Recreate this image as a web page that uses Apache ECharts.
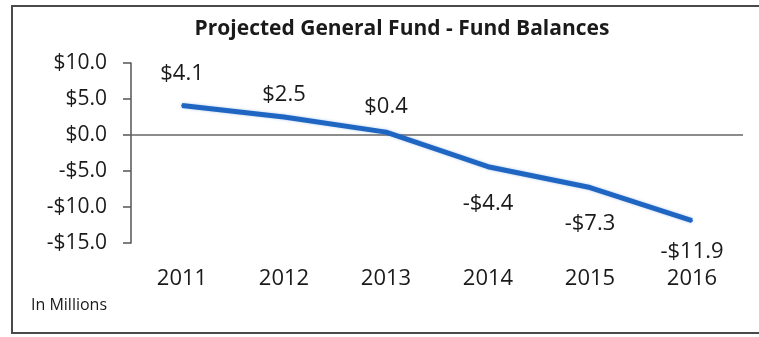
<!DOCTYPE html>
<html>
<head>
<meta charset="utf-8">
<script src="https://cdn.jsdelivr.net/npm/echarts@6/dist/echarts.min.js"></script>
<style>
  html, body { margin: 0; padding: 0; background: #ffffff; }
  #chart { width: 759px; height: 337px; }
</style>
</head>
<body>
<div id="chart"></div>
<script>
// Fiscal years and projected fund balances ($ millions)
const years = ['2011', '2012', '2013', '2014', '2015', '2016'];
const balances = [4.1, 2.5, 0.4, -4.4, -7.3, -11.9];
const yTicks = { min: -15, max: 10, step: 5 };

const FONT = '"Open Sans", "Noto Sans", sans-serif';
const TEXT = '#1a1a1a';

// gap between each point and its value label
const labelGap = [20, 10, 13, 25, 24, 19];

const money = v => (v < 0 ? '-$' : '$') + Math.abs(v).toFixed(1);

const seriesData = balances.map((v, i) => ({
  value: v,
  label: {
    show: true,
    position: v >= 0 ? 'top' : 'bottom',
    distance: labelGap[i]
  }
}));

const chart = echarts.init(document.getElementById('chart'), null, { renderer: 'canvas' });

chart.setOption({
  backgroundColor: '#ffffff',
  animation: false,
  title: {
    text: 'Projected General Fund - Fund Balances',
    left: 397,
    textAlign: 'center',
    top: 14,
    textStyle: { fontFamily: FONT, fontWeight: 'bold', fontSize: 21, color: TEXT }
  },
  graphic: [
    {
      type: 'rect',
      silent: true,
      shape: { x: 12, y: 6, width: 800, height: 327 },
      style: { fill: 'none', stroke: '#4a4a4a', lineWidth: 2 }
    },
    {
      type: 'text',
      left: 31,
      top: 297,
      silent: true,
      style: { text: 'In Millions', fontFamily: FONT, fontSize: 16, fill: TEXT }
    }
  ],
  grid: { left: 131, right: 16, top: 63, bottom: 94, containLabel: false },
  xAxis: {
    type: 'category',
    data: years,
    boundaryGap: true,
    axisLine: { show: false, onZero: false },
    axisTick: { show: false },
    axisLabel: { margin: 25, fontFamily: FONT, fontSize: 22, color: TEXT },
    splitLine: { show: false }
  },
  yAxis: {
    type: 'value',
    min: yTicks.min,
    max: yTicks.max,
    interval: yTicks.step,
    axisLine: { show: true, lineStyle: { color: '#555555', width: 1.5 } },
    axisTick: { show: true, inside: false, length: 8, lineStyle: { color: '#555555', width: 1.5 } },
    axisLabel: {
      margin: 24,
      fontFamily: FONT,
      fontSize: 21,
      color: TEXT,
      formatter: money
    },
    splitLine: { show: false }
  },
  series: [{
    type: 'line',
    data: seriesData,
    symbol: 'circle',
    symbolSize: 2,
    showSymbol: true,
    itemStyle: { color: '#1f66c2', borderWidth: 0 },
    smooth: false,
    lineStyle: { color: '#1f66c2', width: 5, shadowColor: 'rgba(31,102,194,0.35)', shadowBlur: 3 },
    label: {
      show: true,
      fontFamily: FONT,
      fontSize: 22,
      color: TEXT,
      formatter: p => money(p.value)
    },
    markLine: {
      silent: true,
      symbol: 'none',
      label: { show: false },
      lineStyle: { color: '#666666', type: 'solid', width: 1.5 },
      data: [{ yAxis: 0 }],
      z: 1
    },
    z: 3
  }]
});
</script>
</body>
</html>
